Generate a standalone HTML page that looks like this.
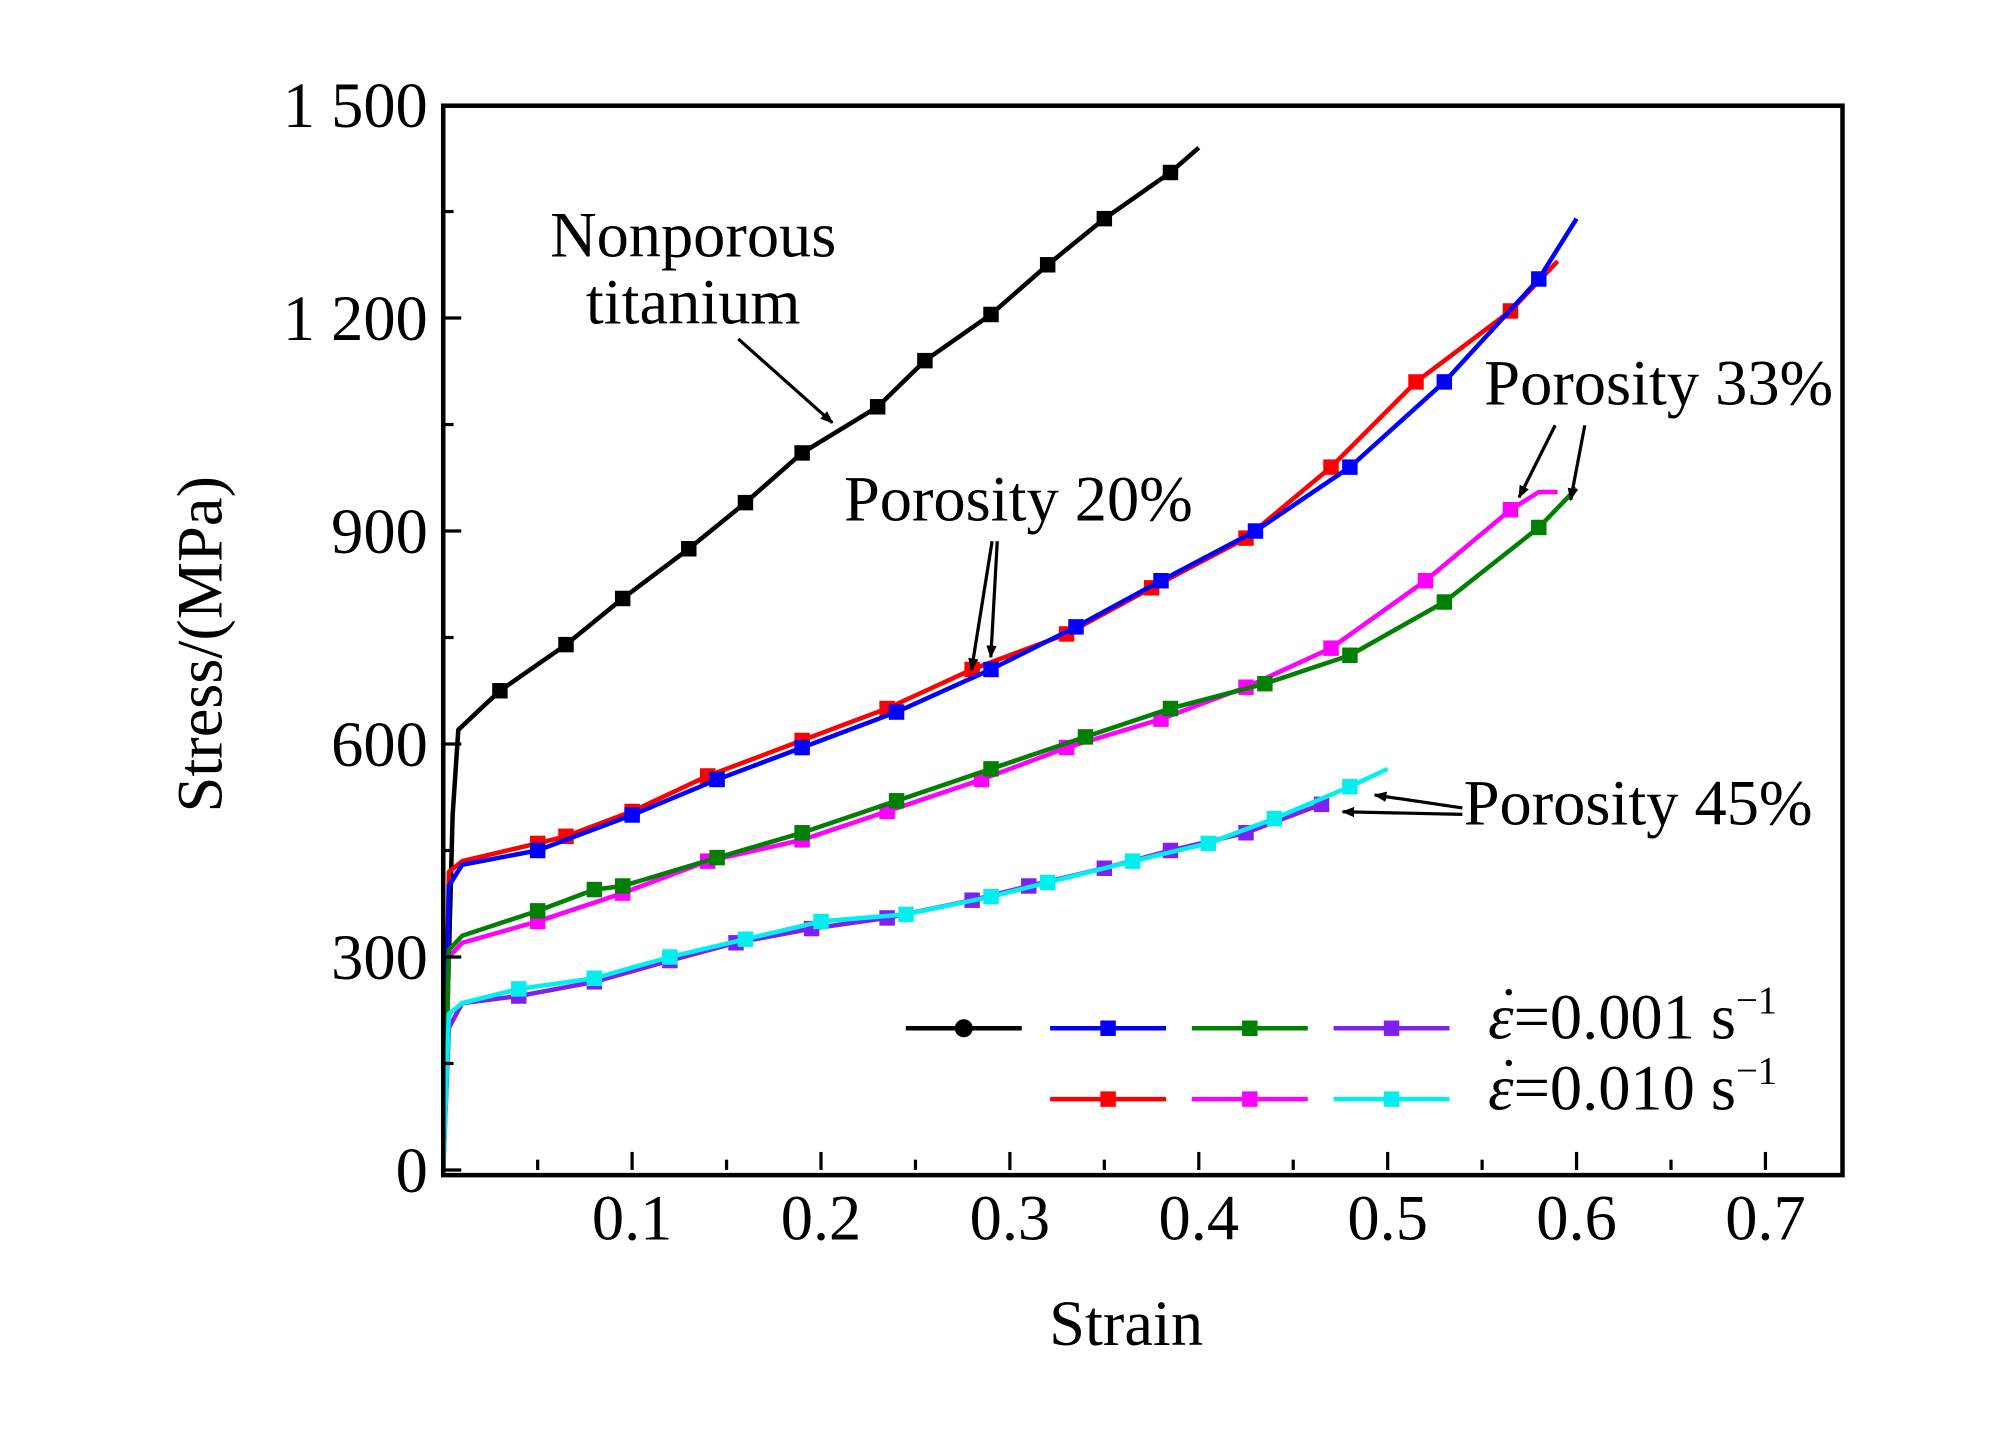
<!DOCTYPE html>
<html><head><meta charset="utf-8"><style>
html,body{margin:0;padding:0;background:#fff;}
svg{display:block;font-family:"Liberation Serif",serif;}
</style></head><body>
<svg id="chart" width="2010" height="1429" viewBox="0 0 1560 1109" xmlns="http://www.w3.org/2000/svg">
<rect x="0" y="0" width="1560" height="1109" fill="#fff"/>
<g id="marks"></g>
<rect x="344" y="82" width="1086" height="830" fill="none" stroke="#000" stroke-width="3.5"/>
<g id="axes"></g>
<text transform="translate(172,500) rotate(-90)" text-anchor="middle" font-size="50">Stress/(MPa)</text>
<text x="874" y="1044" text-anchor="middle" font-size="50">Strain</text>
<text x="538" y="199" text-anchor="middle" font-size="50">Nonporous</text>
<text x="538" y="251" text-anchor="middle" font-size="50">titanium</text>
<text x="655" y="404" font-size="50">Porosity 20%</text>
<text x="1152" y="314" font-size="50">Porosity 33%</text>
<text x="1136" y="640" font-size="50">Porosity 45%</text>
<defs><marker id="ah" markerWidth="10" markerHeight="8" refX="9" refY="4" orient="auto" markerUnits="userSpaceOnUse" viewBox="0 0 10 8"><path d="M0,0 L10,4 L0,8 z" fill="#000"/></marker></defs>
<g stroke="#000" stroke-width="2.5" fill="none">
<line x1="573" y1="263" x2="646" y2="328" marker-end="url(#ah)"/>
<line x1="770" y1="420" x2="754" y2="520" marker-end="url(#ah)"/>
<line x1="774" y1="420" x2="769" y2="510" marker-end="url(#ah)"/>
<line x1="1207" y1="330" x2="1179" y2="386" marker-end="url(#ah)"/>
<line x1="1230" y1="330" x2="1219" y2="388" marker-end="url(#ah)"/>
<line x1="1135" y1="627" x2="1067" y2="617" marker-end="url(#ah)"/>
<line x1="1135" y1="632" x2="1042" y2="630" marker-end="url(#ah)"/>
</g>
<g id="legend"></g>
</svg>
<script>
const xTicks=[0.1,0.2,0.3,0.4,0.5,0.6,0.7];
const xTickLabels=["0.1","0.2","0.3","0.4","0.5","0.6","0.7"];
const yTicks=[0,300,600,900,1200,1500];
const yTickLabels=["0","300","600","900","1 200","1 500"];
const nonporousX=[0,0.005,0.008,0.02,0.03,0.065,0.095,0.13,0.16,0.19,0.23,0.255,0.29,0.32,0.35,0.385,0.4];
const nonporousY=[0,500,620,650,675,740,805,875,940,1010,1075,1140,1205,1275,1340,1405,1440];
const blue20X=[0,0.003,0.01,0.05,0.1,0.145,0.19,0.24,0.29,0.335,0.38,0.43,0.48,0.53,0.58,0.6];
const blue20Y=[0,400,430,450,500,550,595,645,705,765,830,900,990,1110,1255,1340];
const red20X=[0,0.003,0.01,0.05,0.065,0.1,0.14,0.19,0.235,0.28,0.33,0.375,0.425,0.47,0.515,0.565,0.59];
const red20Y=[0,420,435,460,470,505,555,605,650,705,755,820,890,990,1110,1210,1280];
const green33X=[0,0.003,0.01,0.05,0.08,0.095,0.145,0.19,0.24,0.29,0.34,0.385,0.435,0.48,0.53,0.58,0.6];
const green33Y=[0,310,330,365,395,400,440,475,520,565,610,650,685,725,800,905,960];
const magenta33X=[0,0.003,0.01,0.05,0.095,0.14,0.19,0.235,0.285,0.33,0.38,0.425,0.47,0.52,0.565,0.58,0.59];
const magenta33Y=[0,300,320,350,390,435,465,505,550,595,635,680,735,830,930,955,955];
const purple45X=[0,0.003,0.01,0.04,0.08,0.12,0.155,0.195,0.235,0.28,0.31,0.35,0.385,0.425,0.465];
const purple45Y=[0,200,235,245,265,295,320,340,355,380,400,425,450,475,515];
const cyan45X=[0,0.003,0.01,0.04,0.08,0.12,0.16,0.2,0.245,0.29,0.32,0.365,0.405,0.44,0.48,0.5];
const cyan45Y=[0,220,235,255,270,300,325,350,360,385,405,435,460,495,540,565];
const NS="http://www.w3.org/2000/svg";
function sx(v){return 344+v*1466;}
function sy(v){return 908-v*(826.5/1500);}
function mk(tag,attrs,parent){const e=document.createElementNS(NS,tag);for(const k in attrs)e.setAttribute(k,attrs[k]);parent.appendChild(e);return e;}
const marks=document.getElementById('marks');
const axes=document.getElementById('axes');
function series(name,xs,ys,color,skipStart,skipEnd){
  const g=mk('g',{},marks);
  
  
  const pts=xs.map((x,i)=>sx(x).toFixed(1)+','+sy(ys[i]).toFixed(1)).join(' ');
  const pl=mk('polyline',{points:pts,fill:'none',stroke:color,'stroke-width':3.5,'stroke-linejoin':'round'},g);
  
  
  for(let i=skipStart;i<xs.length-skipEnd;i++){
    const r=mk('rect',{x:sx(xs[i])-6,y:sy(ys[i])-6,width:12,height:12,fill:color},g);
    
    
  }
}
series('nonporous-0001',nonporousX,nonporousY,'#000',4,1);
series('porosity20-0010',red20X,red20Y,'#f00',3,1);
series('porosity20-0001',blue20X,blue20Y,'#00f',3,1);
series('porosity33-0010',magenta33X,magenta33Y,'#f0f',3,2);
series('porosity33-0001',green33X,green33Y,'#008000',3,1);
series('porosity45-0001',purple45X,purple45Y,'#8020f0',3,0);
series('porosity45-0010',cyan45X,cyan45Y,'#00f0f0',3,1);
for(let i=0;i<=14;i++){
  const v=i*0.05,x=sx(v),len=(i%2===0)?14:8;
  const t=mk('line',{x1:x,y1:908,x2:x,y2:908-len,stroke:'#000','stroke-width':2.5},axes);
  
  
}
xTicks.forEach((v,i)=>{
  const t=mk('text',{x:sx(v),y:962,'text-anchor':'middle','font-size':50},axes);
  t.textContent=xTickLabels[i];
  
  
});
for(let i=0;i<=10;i++){
  const v=i*150,y=sy(v),len=(i%2===0)?14:8;
  const t=mk('line',{x1:344,y1:y,x2:344+len,y2:y,stroke:'#000','stroke-width':2.5},axes);
  
  
}
yTicks.forEach((v,i)=>{
  const t=mk('text',{x:332,y:sy(v)+17,'text-anchor':'end','font-size':50},axes);
  t.textContent=yTickLabels[i];
  
  
});
const lg=document.getElementById('legend');
function legItem(x,y,color,circle){
  const g=mk('g',{},lg);
  
  
  mk('line',{x1:x,y1:y,x2:x+90,y2:y,stroke:color,'stroke-width':3.5},g);
  if(circle)mk('circle',{cx:x+45,cy:y,r:7,fill:color},g);
  else mk('rect',{x:x+39,y:y-6,width:12,height:12,fill:color},g);
}
legItem(703,798,'#000',true);legItem(815,798,'#00f');legItem(925,798,'#008000');legItem(1035,798,'#8020f0');
legItem(815,853,'#f00');legItem(925,853,'#f0f');legItem(1035,853,'#00f0f0');
[[806,'0.001'],[861,'0.010']].forEach(r=>{
  const t=mk('text',{x:1155,y:r[0],'font-size':50},lg);
  t.innerHTML='<tspan font-style="italic">ε</tspan>='+r[1]+' s<tspan font-size="30" dy="-20">−1</tspan>';
  
  
  const d=mk('circle',{cx:1171,cy:r[0]-36,r:2.5,fill:'#000'},lg);
  
  
});
</script>
</body></html>
